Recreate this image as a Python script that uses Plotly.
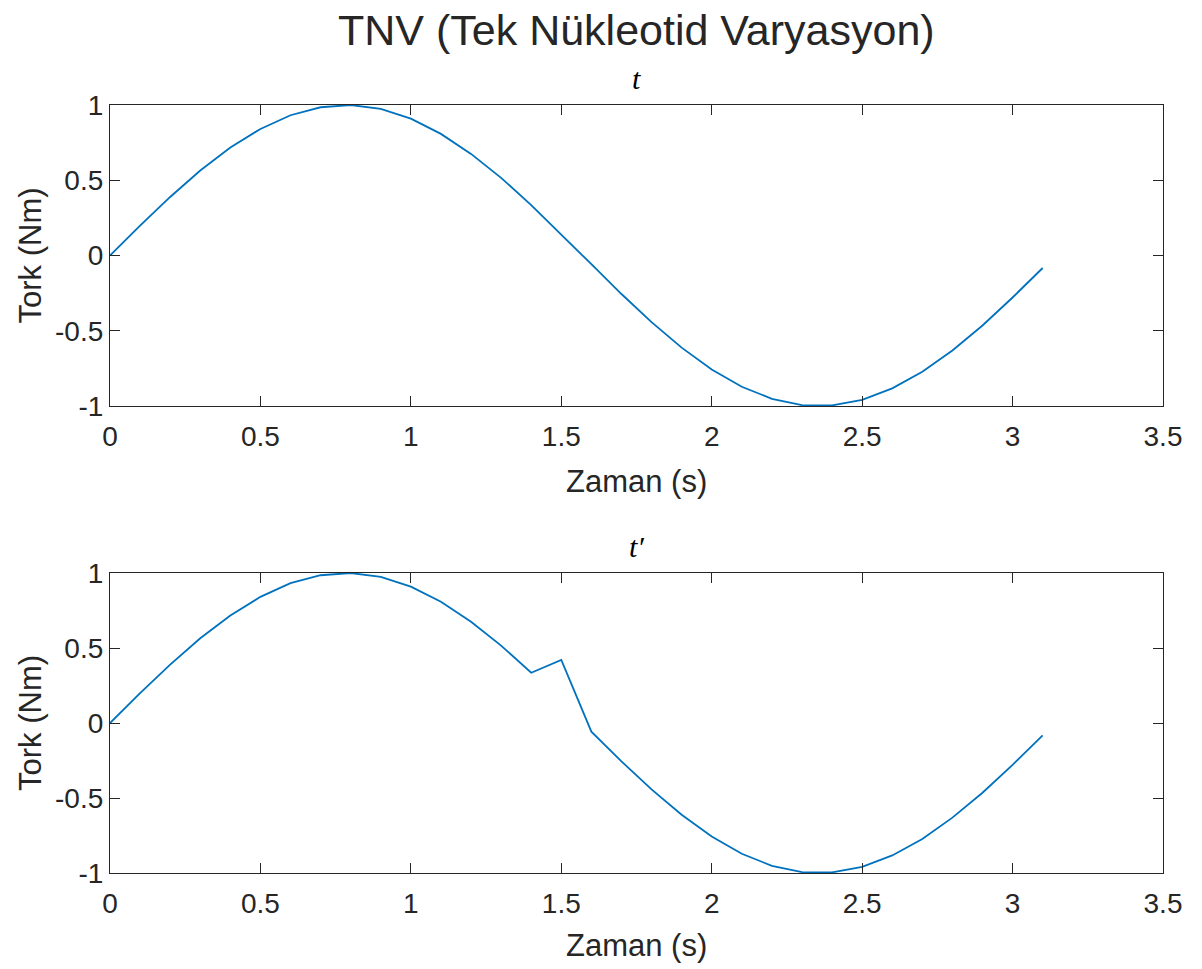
import plotly.graph_objects as go

zaman = [0.0, 0.1, 0.2, 0.3, 0.4, 0.5, 0.6, 0.7, 0.8, 0.9, 1.0, 1.1, 1.2, 1.3, 1.4, 1.5,
         1.6, 1.7, 1.8, 1.9, 2.0, 2.1, 2.2, 2.3, 2.4, 2.5, 2.6, 2.7, 2.8, 2.9, 3.0, 3.1]
tork_t = [0.0, 0.199, 0.389, 0.565, 0.717, 0.841, 0.932, 0.985, 1.0, 0.974, 0.909, 0.808,
          0.675, 0.516, 0.335, 0.141, -0.058, -0.256, -0.443, -0.612, -0.757, -0.872,
          -0.952, -0.994, -0.996, -0.959, -0.883, -0.773, -0.631, -0.465, -0.279, -0.083]
tork_tp = [0.0, 0.199, 0.389, 0.565, 0.717, 0.841, 0.932, 0.985, 1.0, 0.974, 0.909, 0.808,
           0.675, 0.516, 0.335, 0.42, -0.058, -0.256, -0.443, -0.612, -0.757, -0.872,
           -0.952, -0.994, -0.996, -0.959, -0.883, -0.773, -0.631, -0.465, -0.279, -0.083]
x_ticks = [0, 0.5, 1, 1.5, 2, 2.5, 3, 3.5]
x_ticklabels = ["0", "0.5", "1", "1.5", "2", "2.5", "3", "3.5"]
y_ticks = [-1, -0.5, 0, 0.5, 1]
y_ticklabels = ["-1", "-0.5", "0", "0.5", "1"]

LINE = "#0072BD"
AX = "#262626"
FONT = "Liberation Sans, Arial, sans-serif"
SERIF = "Liberation Serif, Times New Roman, serif"

fig = go.Figure()
fig.add_trace(go.Scatter(x=zaman, y=tork_t, mode="lines", line=dict(color=LINE, width=1.8),
                         xaxis="x", yaxis="y", showlegend=False))
fig.add_trace(go.Scatter(x=zaman, y=tork_tp, mode="lines", line=dict(color=LINE, width=1.8),
                         xaxis="x2", yaxis="y2", showlegend=False))

W, H = 1202, 969
xd = [110 / W, 1163 / W]
y1d = [1 - 406 / H, 1 - 105 / H]
y2d = [1 - 873 / H, 1 - 573 / H]

common_x = dict(range=[0, 3.5], tickvals=x_ticks, ticktext=x_ticklabels, showgrid=False,
                zeroline=False, showline=True, linecolor=AX, linewidth=1.2, mirror="ticks",
                ticks="inside", ticklen=10, tickcolor=AX, tickwidth=1.2, ticklabelstandoff=5,
                tickfont=dict(family=FONT, size=28, color=AX), domain=xd)
common_y = dict(range=[-1, 1], tickvals=y_ticks, ticktext=y_ticklabels, showgrid=False,
                zeroline=False, showline=True, linecolor=AX, linewidth=1.2, mirror="ticks",
                ticks="inside", ticklen=10, tickcolor=AX, tickwidth=1.2,
                tickfont=dict(family=FONT, size=28, color=AX))

fig.update_layout(
    width=W, height=H,
    margin=dict(l=0, r=0, t=0, b=0, autoexpand=False),
    paper_bgcolor="white", plot_bgcolor="white",
    xaxis=dict(**common_x, anchor="y"),
    yaxis=dict(**common_y, domain=y1d, anchor="x"),
    xaxis2=dict(**common_x, anchor="y2"),
    yaxis2=dict(**common_y, domain=y2d, anchor="x2"),
)

cx = (xd[0] + xd[1]) / 2


def ann(text, x, y, size, family=FONT, color=AX, angle=0):
    fig.add_annotation(text=text, x=x, y=1 - y / H, xref="paper", yref="paper",
                       showarrow=False, font=dict(family=family, size=size, color=color),
                       xanchor="center", yanchor="middle", textangle=angle)


ann("TNV (Tek Nükleotid Varyasyon)", cx, 30, 43)
ann("<i>t</i>", cx, 79, 30, family=SERIF, color="black")
ann("<i>t′</i>", cx, 546, 30, family=SERIF, color="black")
ann("Zaman (s)", cx, 481, 31)
ann("Zaman (s)", cx, 945, 31)
ann("Tork (Nm)", 30 / W, (105 + 406) / 2, 31, angle=-90)
ann("Tork (Nm)", 30 / W, (573 + 873) / 2, 31, angle=-90)

fig.write_html("out.html")
